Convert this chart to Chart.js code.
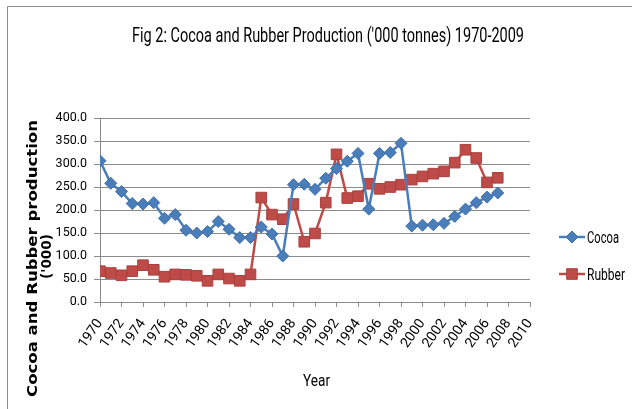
<!DOCTYPE html>
<html>
<head>
<meta charset="utf-8">
<script src="https://cdn.jsdelivr.net/npm/chart.js@4.4.1/dist/chart.umd.min.js"></script>
<style>
  html, body { margin: 0; padding: 0; background: #fff; }
  #wrap { width: 632px; height: 409px; }
</style>
</head>
<body>
<div id="wrap"><canvas id="chart" width="632" height="409"></canvas></div>
<script>
// Years on the x axis (one point per year)
const years = [1970, 1971, 1972, 1973, 1974, 1975, 1976, 1977, 1978, 1979,
               1980, 1981, 1982, 1983, 1984, 1985, 1986, 1987, 1988, 1989,
               1990, 1991, 1992, 1993, 1994, 1995, 1996, 1997, 1998, 1999,
               2000, 2001, 2002, 2003, 2004, 2005, 2006, 2007];
// Production, '000 tonnes
const cocoa = [307, 258, 240, 214, 213, 216, 182, 190, 156, 150,
               153, 175, 158, 140, 140, 163, 148, 100, 255, 256,
               245, 269, 290, 306, 323, 202, 323, 325, 345, 165,
               167, 168, 171, 186, 202, 216, 228, 237];
const rubber = [67, 63, 58, 67, 80, 70, 55, 60, 59, 57,
                46, 60, 51, 46, 60, 227, 190, 180, 213, 131,
                149, 216, 321, 226, 230, 257, 246, 250, 255, 266,
                273, 279, 284, 303, 331, 313, 260, 270];
const seriesNames = ["Cocoa", "Rubber"];

const sans = 'Roboto, "Liberation Sans", sans-serif';
const blue = "#4a7ebb", red = "#be4b48";

const toPoints = (vals) => vals.map((v, i) => ({ x: years[i], y: v }));

// text squeezed sideways so it looks like the narrow Calibri of the original
function narrowText(ctx, text, x, y, font, width) {
  ctx.save();
  ctx.font = font;
  const sx = width / ctx.measureText(text).width;
  ctx.translate(x, y);
  ctx.scale(sx, 1);
  ctx.fillText(text, 0, 0);
  ctx.restore();
}

// Everything that is not the plot itself: frame, title, axis titles, legend
const decor = {
  id: "decor",
  beforeDraw(chart) {
    const ctx = chart.ctx;
    ctx.save();
    ctx.fillStyle = "#fff";
    ctx.fillRect(0, 0, chart.width, chart.height);
    ctx.strokeStyle = "#8c8c8c";
    ctx.lineWidth = 1;
    ctx.beginPath();
    ctx.moveTo(7.5, chart.height);
    ctx.lineTo(7.5, 6.5);
    ctx.lineTo(chart.width, 6.5);
    ctx.stroke();
    ctx.restore();
  },
  afterDraw(chart) {
    const ctx = chart.ctx;
    ctx.save();
    ctx.fillStyle = "#000";
    ctx.textAlign = "left";
    ctx.textBaseline = "alphabetic";

    // Title
    narrowText(ctx, "Fig 2: Cocoa and Rubber Production ('000 tonnes) 1970-2009",
      132, 42, "20px " + sans, 392);

    // x axis title
    narrowText(ctx, "Year", 303, 386, "16px " + sans, 27);

    // y axis title, two lines, stretched along their length
    ctx.save();
    ctx.translate(37, 397);
    ctx.rotate(-Math.PI / 2);
    narrowText(ctx, "Cocoa and Rubber production", 0, 0, 'bold 13.5px "DejaVu Sans", sans-serif', 277);
    ctx.restore();
    ctx.save();
    ctx.translate(51, 279);
    ctx.rotate(-Math.PI / 2);
    narrowText(ctx, "('000)", 0, 0, 'bold 13.5px "DejaVu Sans", sans-serif', 45);
    ctx.restore();

    // Legend
    const widths = [32, 38];
    chart.data.datasets.forEach((ds, i) => {
      const y = 237 + i * 37;
      ctx.strokeStyle = ds.borderColor;
      ctx.lineWidth = 2.5;
      ctx.beginPath();
      ctx.moveTo(559, y);
      ctx.lineTo(585, y);
      ctx.stroke();
      ctx.fillStyle = ds.pointBackgroundColor;
      ctx.strokeStyle = ds.pointBorderColor;
      ctx.lineWidth = 1;
      Chart.helpers.drawPoint(ctx, {
        pointStyle: ds.pointStyle, radius: ds.pointRadius, rotation: 0, borderWidth: 1
      }, 572, y);
      ctx.fillStyle = "#000";
      narrowText(ctx, ds.label, 587, y + 6, "16px " + sans, widths[i]);
    });
    ctx.restore();
  }
};

new Chart(document.getElementById("chart"), {
  type: "line",
  plugins: [decor],
  data: {
    datasets: [
      {
        label: seriesNames[0],
        data: toPoints(cocoa),
        borderColor: blue,
        borderWidth: 2.5,
        pointStyle: "rectRot",
        pointRadius: 6,
        pointBackgroundColor: blue,
        pointBorderColor: "#3e6ea8",
        pointBorderWidth: 1,
        tension: 0
      },
      {
        label: seriesNames[1],
        data: toPoints(rubber),
        borderColor: red,
        borderWidth: 2.5,
        pointStyle: "rect",
        pointRadius: 7.5,
        pointBackgroundColor: red,
        pointBorderColor: "#a8413e",
        pointBorderWidth: 1,
        tension: 0
      }
    ]
  },
  options: {
    responsive: false,
    animation: false,
    layout: { padding: { left: 0, top: 118, right: 102, bottom: 0 } },
    plugins: {
      legend: { display: false },
      tooltip: { enabled: false }
    },
    scales: {
      x: {
        type: "linear",
        min: 1970,
        max: 2010,
        afterFit: (s) => { s.height = 107; },
        grid: { drawOnChartArea: false, drawTicks: true, tickLength: 5, color: "#8c8c8c" },
        border: { color: "#8c8c8c" },
        ticks: {
          stepSize: 2,
          minRotation: 55,
          maxRotation: 55,
          autoSkip: false,
          padding: 9,
          color: "#000",
          font: { family: sans, size: 14 },
          callback: (v) => String(v)
        }
      },
      y: {
        min: 0,
        max: 400,
        afterFit: (s) => { s.width = 100; },
        grid: { color: "#8c8c8c", tickLength: 6 },
        border: { color: "#8c8c8c" },
        ticks: {
          stepSize: 50,
          padding: 7,
          color: "#000",
          font: { family: sans, size: 12.5 },
          callback: (v) => v.toFixed(1)
        }
      }
    }
  }
});
</script>
</body>
</html>
